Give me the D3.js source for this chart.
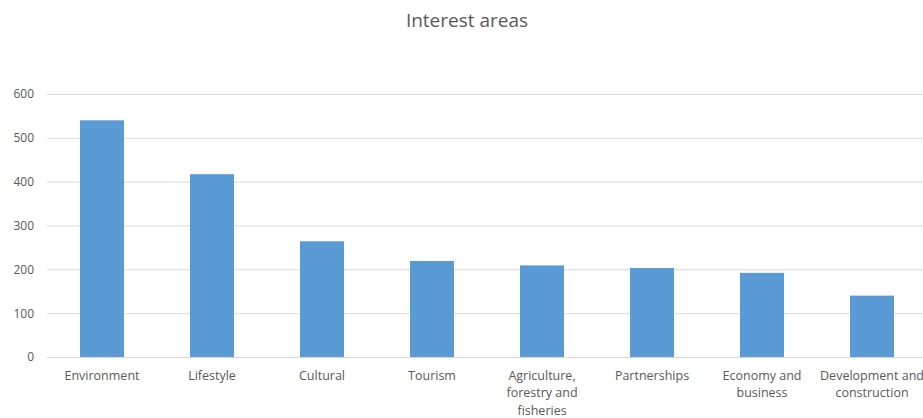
<!DOCTYPE html>
<html><head><meta charset="utf-8">
<script src="https://cdn.jsdelivr.net/npm/d3@7"></script>
<style>body{margin:0;background:#fff;overflow:hidden}svg{display:block}</style>
</head><body><svg id="c" width="923" height="418"></svg>
<script>
const categories = ["Environment","Lifestyle","Cultural","Tourism","Agriculture, forestry and fisheries","Partnerships","Economy and business","Development and construction"];
const values = [540, 417, 264, 219, 209, 203, 192, 140];
const yTicks = [0,100,200,300,400,500,600];
const title = "Interest areas";

const svg = d3.select("#c");
const font = "'Open Sans', sans-serif";
const x = d3.scaleBand().domain(categories).range([47, 927]).paddingInner(0.6).paddingOuter(0.3);
const y = d3.scaleLinear().domain([0, 600]).range([357, 94]);

svg.append("text").attr("x", 467).attr("y", 27).attr("text-anchor", "middle")
  .attr("font-family", font).attr("font-size", 19).attr("fill", "#595959").text(title);

const yAxis = svg.append("g").attr("transform", "translate(47,0)")
  .call(d3.axisLeft(y).tickValues(yTicks).tickSize(-900).tickPadding(13).tickFormat(d3.format("d")));
yAxis.select(".domain").remove();
yAxis.selectAll("line").attr("stroke", "#d9d9d9").attr("stroke-width", 1);
yAxis.selectAll("text").attr("font-family", font).attr("font-size", 12).attr("fill", "#595959");

svg.append("g").selectAll("rect").data(values).join("rect")
  .attr("x", (d, i) => x(categories[i])).attr("width", x.bandwidth())
  .attr("y", d => y(d)).attr("height", d => y(0) - y(d)).attr("fill", "#5b9bd5");

const xAxis = svg.append("g").attr("transform", "translate(0,357)")
  .call(d3.axisBottom(x).tickSize(0).tickPadding(14));
xAxis.select(".domain").remove();
xAxis.selectAll("text").attr("font-family", font).attr("font-size", 12.5).attr("fill", "#595959")
  .each(function(d) {
    const t = d3.select(this);
    const words = d.split(" ");
    const yy = t.attr("y"), dy = t.attr("dy");
    t.text(null);
    let line = [], lineNo = 0;
    let ts = t.append("tspan").attr("x", 0).attr("y", yy).attr("dy", dy);
    for (const w of words) {
      line.push(w);
      ts.text(line.join(" "));
      if (ts.node().getComputedTextLength() > 106 && line.length > 1) {
        line.pop();
        ts.text(line.join(" "));
        line = [w];
        lineNo++;
        ts = t.append("tspan").attr("x", 0).attr("y", yy).attr("dy", (lineNo * 1.4 + 0.71) + "em").text(w);
      }
    }
  });
</script></body></html>
